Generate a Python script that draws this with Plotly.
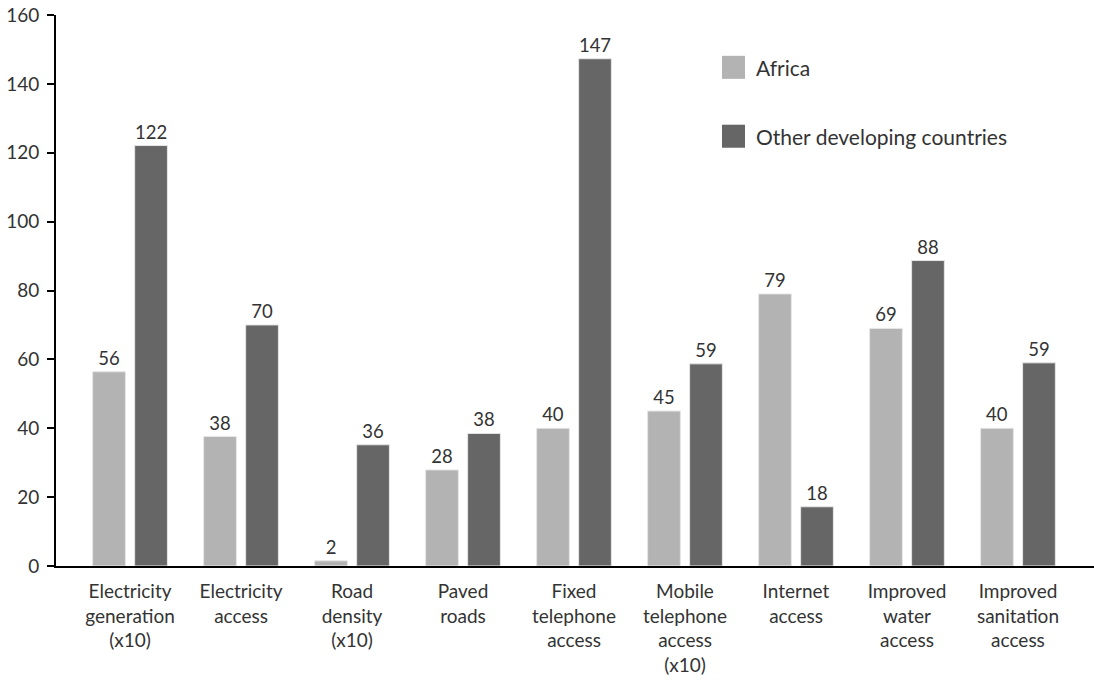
import plotly.graph_objects as go

categories = [
    "Electricity<br>generation<br>(x10)",
    "Electricity<br>access",
    "Road<br>density<br>(x10)",
    "Paved<br>roads",
    "Fixed<br>telephone<br>access",
    "Mobile<br>telephone<br>access<br>(x10)",
    "Internet<br>access",
    "Improved<br>water<br>access",
    "Improved<br>sanitation<br>access",
]
series_names = ["Africa", "Other developing countries"]
africa_values = [56.4, 37.6, 1.5, 27.9, 40.0, 45.0, 79.0, 69.0, 40.0]
other_values = [122.1, 70.0, 35.2, 38.5, 147.3, 58.7, 17.2, 88.7, 59.0]
africa_labels = [56, 38, 2, 28, 40, 45, 79, 69, 40]
other_labels = [122, 70, 36, 38, 147, 59, 18, 88, 59]
y_ticks = [0, 20, 40, 60, 80, 100, 120, 140, 160]

colors = ["#b3b3b3", "#666666"]
FONT = "Lato"
TXT = "#333333"

fig = go.Figure()
for name, vals, labs, col in [
    (series_names[0], africa_values, africa_labels, colors[0]),
    (series_names[1], other_values, other_labels, colors[1]),
]:
    fig.add_trace(go.Bar(
        x=list(range(len(categories))), y=vals, name=name,
        marker=dict(color=col, line=dict(color="#e6e6e6", width=1)),
        text=[str(v) for v in labs], textposition="outside",
        textfont=dict(family=FONT, size=18.5, color=TXT),
        constraintext="none", cliponaxis=False, showlegend=False,
    ))

fig.update_layout(
    width=1094, height=682,
    margin=dict(l=56, r=0, t=15, b=116),
    paper_bgcolor="white", plot_bgcolor="white",
    barmode="group", bargap=0.243, bargroupgap=0.22,
    font=dict(family=FONT, size=19, color=TXT),
)
fig.update_xaxes(
    tickmode="array", tickvals=list(range(len(categories))), ticktext=categories,
    range=[-0.667, 8.685], showline=True, linecolor="black", linewidth=2,
    ticks="", showgrid=False, zeroline=False, ticklabelstandoff=7,
    tickfont=dict(family=FONT, size=19, color=TXT),
)
fig.update_yaxes(
    range=[0, 160], tickvals=y_ticks, showline=True, linecolor="black", linewidth=2,
    ticks="outside", ticklen=7, tickwidth=2, tickcolor="black",
    showgrid=False, zeroline=False, ticklabelstandoff=4,
    tickfont=dict(family=FONT, size=19, color=TXT),
)

# legend drawn manually (large square swatches)
legend_y = [0.905, 0.78]
for name, col, yy in zip(series_names, colors, legend_y):
    fig.add_shape(type="rect", xref="paper", yref="paper",
                  x0=(722 - 56) / 1038, x1=(745 - 56) / 1038,
                  y0=yy - 0.0209, y1=yy + 0.0209,
                  fillcolor=col, line=dict(width=0))
    fig.add_annotation(xref="paper", yref="paper", x=(754 - 56) / 1038, y=yy,
                       text=name, showarrow=False, xanchor="left", yanchor="middle",
                       font=dict(family=FONT, size=21, color=TXT))

fig.write_html("out.html")
